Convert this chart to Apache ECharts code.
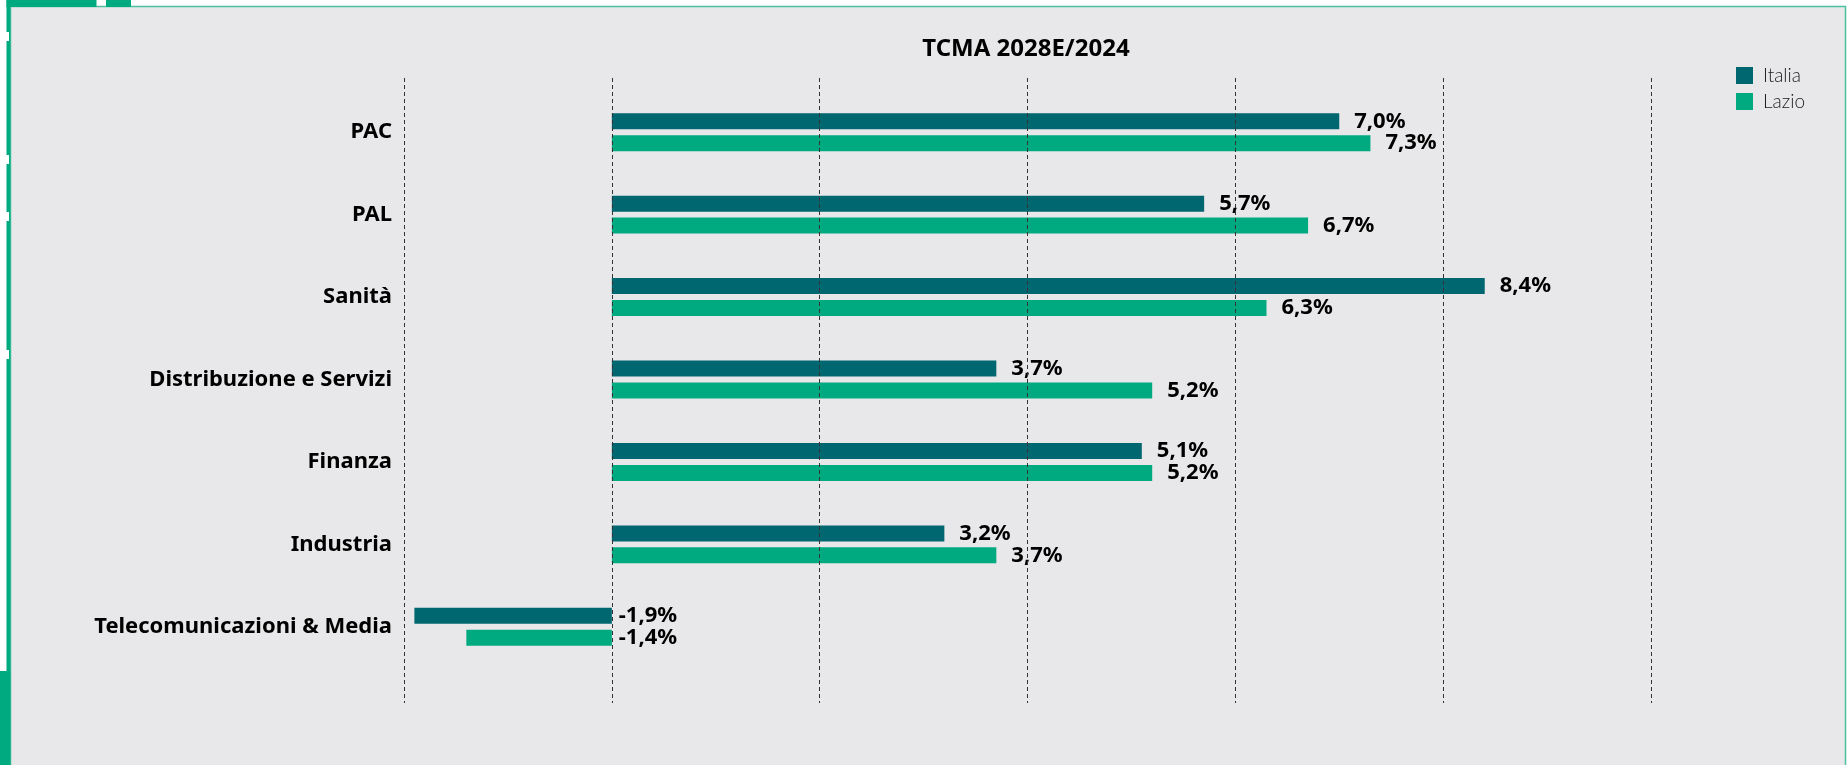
<!DOCTYPE html>
<html><head><meta charset="utf-8">
<script src="https://cdn.jsdelivr.net/npm/echarts@6/dist/echarts.min.js"></script>
<style>html,body{margin:0;padding:0;background:#fff}#c{width:1847px;height:765px}</style>
</head><body><div id="c"></div>
<script>
const categories = ['PAC', 'PAL', 'Sanità', 'Distribuzione e Servizi', 'Finanza', 'Industria', 'Telecomunicazioni & Media'];
const italia = [7.0, 5.7, 8.4, 3.7, 5.1, 3.2, -1.9];
const lazio = [7.3, 6.7, 6.3, 5.2, 5.2, 3.7, -1.4];
const seriesNames = ['Italia', 'Lazio'];
const chartTitle = 'TCMA 2028E/2024';
const xMin = -2, xMax = 10, xStep = 2;

const colors = ['#006670', '#00aa80'];
const BOLD = '"Noto Sans", Lato, sans-serif';
const LIGHT = 'Lato, "Noto Sans", sans-serif';
const fmt = v => v.toFixed(1).replace('.', ',') + '%';
const toItems = arr => arr.map(v => v < 0 ? { value: v, label: { distance: 7 } } : v);

const chart = echarts.init(document.getElementById('c'), null, { renderer: 'canvas' });
chart.setOption({
  backgroundColor: '#ffffff',
  animation: false,
  graphic: [
    { type: 'rect', z: -10, shape: { x: 10.5, y: 6.5, width: 1835, height: 760 }, style: { fill: '#e8e8ea', stroke: '#4cc0a0', lineWidth: 1.5 } },
    { type: 'rect', z: -9, shape: { x: 6.5, y: 0, width: 90, height: 7 }, style: { fill: '#00aa80' } },
    { type: 'rect', z: -9, shape: { x: 106, y: 0, width: 25, height: 7 }, style: { fill: '#00aa80' } },
    { type: 'rect', z: -9, shape: { x: 6.5, y: 0, width: 3.8, height: 765 }, style: { fill: '#00aa80' } },
    { type: 'rect', z: -9, shape: { x: 0, y: 671, width: 10.3, height: 94 }, style: { fill: '#00aa80' } },
    { type: 'rect', z: -8, shape: { x: 0, y: 32, width: 9, height: 9 }, style: { fill: '#ffffff' } },
    { type: 'rect', z: -8, shape: { x: 0, y: 155, width: 9, height: 9 }, style: { fill: '#ffffff' } },
    { type: 'rect', z: -8, shape: { x: 0, y: 212, width: 9, height: 9 }, style: { fill: '#ffffff' } },
    { type: 'rect', z: -8, shape: { x: 0, y: 350, width: 9, height: 9 }, style: { fill: '#ffffff' } }
  ],
  title: {
    text: chartTitle, left: 1021, top: 31, textAlign: 'center',
    textStyle: { fontFamily: BOLD, fontSize: 24, fontWeight: 'bold', color: '#000', lineHeight: 26 }
  },
  legend: {
    data: seriesNames, orient: 'vertical', left: 1736, top: 66, padding: 0,
    icon: 'rect', itemWidth: 17, itemHeight: 17, itemGap: 7,
    textStyle: { fontFamily: LIGHT, fontSize: 19, fontWeight: 300, color: '#1a1a1a', padding: [0, 0, 0, 5] }
  },
  grid: [
    { left: 404, right: 196, top: 91, bottom: 97, containLabel: false },
    { left: 404, right: 196, top: 78, bottom: 62, containLabel: false }
  ],
  xAxis: [
    { type: 'value', gridIndex: 0, min: xMin, max: xMax, interval: xStep, show: false, splitLine: { show: false } },
    { type: 'value', gridIndex: 1, min: xMin, max: xMax, interval: xStep, z: 5,
      axisLine: { show: false }, axisTick: { show: false }, axisLabel: { show: false },
      splitLine: { show: true, lineStyle: { color: '#333', width: 1, type: [4, 3] } } }
  ],
  yAxis: [
    { type: 'category', gridIndex: 0, data: categories, inverse: true,
      axisLine: { show: false }, axisTick: { show: false },
      axisLabel: { margin: 12, fontFamily: BOLD, fontSize: 22, fontWeight: 'bold', color: '#000' } },
    { type: 'value', gridIndex: 1, show: false }
  ],
  series: [
    { name: seriesNames[0], type: 'bar', xAxisIndex: 0, yAxisIndex: 0, data: toItems(italia),
      barWidth: 16, barGap: '37%', itemStyle: { color: colors[0] },
      label: { show: true, position: 'right', distance: 15, formatter: p => fmt(p.value),
        fontFamily: BOLD, fontSize: 22, fontWeight: 'bold', color: '#000' } },
    { name: seriesNames[1], type: 'bar', xAxisIndex: 0, yAxisIndex: 0, data: toItems(lazio),
      barWidth: 16, barGap: '37%', itemStyle: { color: colors[1] },
      label: { show: true, position: 'right', distance: 15, formatter: p => fmt(p.value),
        fontFamily: BOLD, fontSize: 22, fontWeight: 'bold', color: '#000' } }
  ]
});
</script></body></html>
